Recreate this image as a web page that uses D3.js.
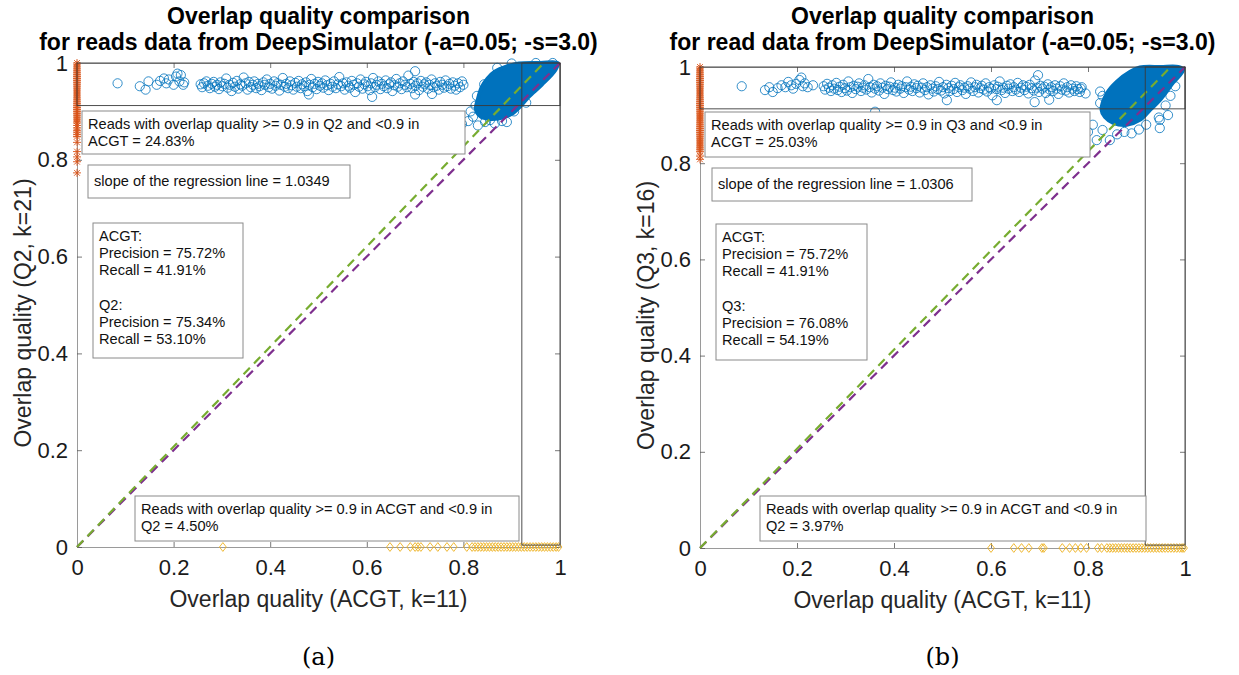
<!DOCTYPE html>
<html>
<head>
<meta charset="utf-8">
<script src="https://cdn.jsdelivr.net/npm/d3@7"></script>
<style>
  body { margin: 0; background: #fff; }
  text { font-family: "Liberation Sans", Arial, Helvetica, sans-serif; }
</style>
</head>
<body>
<div id="chart"></div>
<script>
// ---- data ----
const ticks = [0, 0.2, 0.4, 0.6, 0.8, 1];

const titleA = ["Overlap quality comparison", "for reads data from DeepSimulator (-a=0.05; -s=3.0)"];
const titleB = ["Overlap quality comparison", "for read data from DeepSimulator (-a=0.05; -s=3.0)"];
const xLabel = "Overlap quality (ACGT, k=11)";
const yLabelA = "Overlap quality (Q2, k=21)";
const yLabelB = "Overlap quality (Q3, k=16)";
const captions = ["(a)", "(b)"];

const slopeA = 1.0349;
const slopeB = 1.0306;

// reads that reach >= 0.9 only in Q2 / Q3 (the horizontal band near the top)
const bandA = [
  [0.084,0.958],[0.130,0.952],[0.142,0.945],[0.148,0.962],[0.165,0.955],[0.172,0.963],[0.180,0.968],[0.185,0.958],
  [0.190,0.966],[0.200,0.955],[0.205,0.972],[0.208,0.978],[0.212,0.962],[0.215,0.975],[0.220,0.955],[0.222,0.960],
  [0.256,0.956],[0.259,0.950],[0.263,0.958],[0.268,0.962],[0.271,0.953],[0.275,0.948],[0.279,0.957],[0.283,0.961],[0.286,0.951],[0.290,0.955],
  [0.294,0.946],[0.297,0.960],[0.301,0.952],[0.305,0.957],[0.309,0.968],[0.312,0.949],[0.316,0.955],[0.320,0.942],[0.323,0.959],[0.327,0.951],
  [0.331,0.963],[0.334,0.947],[0.338,0.956],[0.342,0.953],[0.345,0.970],[0.349,0.958],[0.353,0.945],[0.356,0.961],[0.360,0.950],[0.364,0.955],
  [0.367,0.962],[0.371,0.948],[0.375,0.957],[0.378,0.952],[0.382,0.944],[0.386,0.960],[0.389,0.955],[0.393,0.966],[0.397,0.950],[0.400,0.957],
  [0.404,0.947],[0.408,0.962],[0.411,0.953],[0.415,0.958],[0.419,0.943],[0.422,0.955],[0.426,0.969],[0.430,0.951],[0.433,0.957],[0.437,0.948],
  [0.441,0.962],[0.444,0.954],[0.448,0.945],[0.452,0.959],[0.455,0.951],[0.459,0.963],[0.463,0.948],[0.466,0.956],[0.470,0.952],[0.474,0.960],
  [0.477,0.942],[0.481,0.955],[0.485,0.967],[0.488,0.950],[0.492,0.957],[0.496,0.946],[0.499,0.961],[0.503,0.953],[0.507,0.958],[0.510,0.949],
  [0.514,0.964],[0.518,0.954],[0.521,0.944],[0.525,0.957],[0.529,0.951],[0.532,0.962],[0.536,0.948],[0.540,0.956],[0.543,0.971],[0.547,0.952],
  [0.551,0.958],[0.554,0.945],[0.558,0.960],[0.562,0.953],[0.565,0.949],[0.569,0.963],[0.573,0.955],[0.576,0.940],[0.580,0.958],[0.584,0.951],
  [0.587,0.966],[0.591,0.947],[0.595,0.956],[0.598,0.961],[0.602,0.952],[0.606,0.944],[0.609,0.958],[0.613,0.969],[0.617,0.950],[0.620,0.955],
  [0.624,0.962],[0.628,0.946],[0.631,0.957],[0.635,0.952],[0.639,0.964],[0.642,0.948],[0.646,0.956],[0.650,0.960],[0.653,0.942],[0.657,0.954],
  [0.661,0.967],[0.664,0.951],[0.668,0.958],[0.672,0.946],[0.675,0.962],[0.679,0.955],[0.683,0.950],[0.686,0.974],[0.690,0.957],[0.694,0.948],
  [0.697,0.961],[0.701,0.953],[0.705,0.958],[0.708,0.944],[0.712,0.963],[0.716,0.951],[0.719,0.956],[0.723,0.960],[0.727,0.947],[0.730,0.955],
  [0.734,0.966],[0.738,0.950],[0.741,0.958],[0.745,0.953],[0.749,0.945],[0.752,0.961],[0.756,0.955],[0.760,0.949],[0.763,0.964],[0.767,0.952],
  [0.771,0.957],[0.774,0.947],[0.778,0.960],[0.782,0.953],[0.785,0.945],[0.789,0.958],[0.793,0.950],[0.797,0.962],[0.800,0.955],
  [0.611,0.930],[0.480,0.935],[0.700,0.935],[0.700,0.983],[0.735,0.936]
];
const bandB = [
  [0.086,0.960],[0.134,0.952],[0.143,0.958],[0.150,0.948],[0.160,0.956],[0.168,0.962],[0.176,0.958],[0.182,0.969],
  [0.188,0.962],[0.192,0.955],[0.198,0.965],[0.205,0.973],[0.209,0.978],[0.212,0.960],[0.216,0.966],[0.222,0.958],[0.233,0.962],
  [0.255,0.960],[0.258,0.953],[0.262,0.965],[0.266,0.957],[0.270,0.950],[0.273,0.962],[0.277,0.955],[0.281,0.967],[0.284,0.952],[0.288,0.959],
  [0.292,0.948],[0.295,0.963],[0.299,0.956],[0.303,0.951],[0.306,0.970],[0.310,0.958],[0.314,0.946],[0.317,0.961],[0.321,0.954],[0.325,0.959],
  [0.328,0.966],[0.332,0.950],[0.336,0.957],[0.339,0.962],[0.343,0.953],[0.347,0.975],[0.350,0.958],[0.354,0.947],[0.358,0.963],[0.361,0.955],
  [0.365,0.960],[0.369,0.951],[0.372,0.966],[0.376,0.957],[0.380,0.944],[0.383,0.961],[0.387,0.954],[0.391,0.959],[0.394,0.968],[0.398,0.952],
  [0.402,0.957],[0.405,0.949],[0.409,0.963],[0.413,0.955],[0.416,0.960],[0.420,0.946],[0.424,0.958],[0.427,0.970],[0.431,0.953],[0.435,0.959],
  [0.438,0.950],[0.442,0.964],[0.446,0.956],[0.449,0.961],[0.453,0.947],[0.457,0.957],[0.460,0.966],[0.464,0.952],[0.468,0.958],[0.471,0.943],
  [0.475,0.962],[0.479,0.955],[0.482,0.949],[0.486,0.960],[0.490,0.954],[0.493,0.969],[0.497,0.951],[0.501,0.958],[0.504,0.945],[0.508,0.963],
  [0.512,0.956],[0.515,0.950],[0.519,0.961],[0.523,0.954],[0.526,0.967],[0.530,0.948],[0.534,0.958],[0.537,0.962],[0.541,0.952],[0.545,0.957],
  [0.548,0.944],[0.552,0.960],[0.556,0.955],[0.559,0.968],[0.563,0.950],[0.567,0.958],[0.570,0.963],[0.574,0.947],[0.578,0.956],[0.581,0.961],
  [0.585,0.953],[0.589,0.966],[0.592,0.949],[0.596,0.958],[0.600,0.955],[0.603,0.941],[0.607,0.962],[0.611,0.954],[0.614,0.959],[0.618,0.970],
  [0.622,0.952],[0.625,0.957],[0.629,0.946],[0.633,0.961],[0.636,0.955],[0.640,0.964],[0.644,0.950],[0.647,0.958],[0.651,0.953],[0.655,0.967],
  [0.658,0.948],[0.662,0.957],[0.666,0.962],[0.669,0.952],[0.673,0.959],[0.677,0.945],[0.680,0.963],[0.684,0.956],[0.688,0.951],[0.691,0.972],
  [0.695,0.957],[0.699,0.948],[0.702,0.961],[0.706,0.955],[0.710,0.959],[0.713,0.946],[0.717,0.964],[0.721,0.953],[0.724,0.958],[0.728,0.950],
  [0.732,0.962],[0.735,0.955],[0.739,0.944],[0.743,0.960],[0.746,0.953],[0.750,0.966],[0.754,0.951],[0.757,0.958],[0.761,0.947],[0.765,0.962],
  [0.768,0.955],[0.772,0.950],[0.776,0.960],[0.779,0.954],[0.783,0.948],[0.787,0.958],
  [0.361,0.907],[0.509,0.931],[0.612,0.931],[0.690,0.927],[0.720,0.932],[0.697,0.983],[0.825,0.949]
];

// outline of the solid cloud near (1,1)
const blobA = [
  [0.826,0.905],[0.830,0.925],[0.838,0.950],[0.850,0.968],[0.865,0.982],[0.890,0.993],[0.915,0.999],[0.960,1.000],
  [0.995,1.000],[0.990,0.985],[0.962,0.955],[0.935,0.930],[0.920,0.913],[0.900,0.895],[0.875,0.886],[0.850,0.885],[0.835,0.890]
];
const blobB = [
  [0.828,0.911],[0.839,0.945],[0.859,0.969],[0.887,0.990],[0.907,0.999],[0.950,1.000],[0.986,1.000],[0.996,0.994],
  [0.975,0.967],[0.948,0.931],[0.928,0.911],[0.907,0.890],[0.880,0.880],[0.852,0.884],[0.835,0.896]
];
// loose circles around the cloud
const edgeA = [
  [0.797,0.874],[0.810,0.880],[0.820,0.889],[0.830,0.871],[0.845,0.878],[0.855,0.882],[0.865,0.875],[0.880,0.880],
  [0.840,0.895],[0.825,0.912],[0.828,0.932],[0.843,0.956],[0.905,0.900],[0.930,0.918],[0.870,0.990],[0.900,0.999],
  [0.950,1.000],[0.985,1.000],[0.815,0.900],[0.890,0.878]
];
const edgeB = [
  [0.830,0.869],[0.818,0.848],[0.845,0.848],[0.948,0.890],[0.948,0.873],[0.946,0.895],[0.860,0.860],[0.875,0.865],
  [0.890,0.862],[0.905,0.870],[0.920,0.880],[0.960,0.920],[0.970,0.940],[0.980,0.960],[0.800,0.865],[0.810,0.880],
  [0.825,0.925],[0.830,0.940],[0.965,0.900],[0.795,0.945],[0.785,0.955]
];

// reads with ACGT quality 0 (orange stars on the y axis)
const starsA = [1.000,0.996,0.992,0.988,0.984,0.980,0.976,0.972,0.968,0.964,0.960,0.956,0.952,0.948,0.944,0.940,
  0.936,0.932,0.928,0.924,0.920,0.916,0.912,0.908,0.904,0.900,0.896,0.892,0.888,0.884,0.880,0.876,0.871,0.866,
  0.861,0.857,0.852,0.848,0.836,0.817,0.806,0.796,0.773];
const starsB = [1.000,0.996,0.992,0.988,0.984,0.980,0.976,0.972,0.968,0.964,0.960,0.956,0.952,0.948,0.944,0.940,
  0.936,0.932,0.928,0.924,0.920,0.916,0.912,0.908,0.904,0.900,0.896,0.892,0.888,0.884,0.880,0.876,0.872,0.868,
  0.864,0.860,0.856,0.852,0.848,0.844,0.840,0.836,0.832,0.828,0.824,0.815,0.808];

// reads with Q quality 0 (yellow diamonds on the x axis)
const diamondsA = [0.302,0.648,0.669,0.690,0.700,0.706,0.712,0.731,0.747,0.766,0.780,0.807,0.818,0.824,0.830,0.836,
  0.842,0.848,0.854,0.860,0.866,0.872,0.878,0.884,0.890,0.896,0.902,0.908,0.914,0.920,0.926,0.932,0.938,0.944,
  0.950,0.956,0.962,0.968,0.974,0.980,0.986,0.992,0.997];
const diamondsB = [0.600,0.647,0.663,0.678,0.705,0.709,0.747,0.762,0.774,0.785,0.797,0.820,0.828,0.839,0.845,0.851,
  0.857,0.863,0.869,0.875,0.881,0.887,0.893,0.899,0.905,0.911,0.917,0.923,0.929,0.935,0.941,0.947,0.953,0.959,
  0.965,0.971,0.977,0.983,0.989,0.994,0.998];

// threshold rectangles (x cut, y cut, floor)
const cutsA = [0.921, 0.912, 0.004];
const cutsB = [0.918, 0.913, 0.006];

const boxesA = [
  ["Reads with overlap quality >= 0.9 in Q2 and <0.9 in", "ACGT = 24.83%"],
  ["slope of the regression line = 1.0349"],
  ["ACGT:", "Precision = 75.72%", "Recall = 41.91%", "", "Q2:", "Precision = 75.34%", "Recall = 53.10%"],
  ["Reads with overlap quality >= 0.9 in ACGT and <0.9 in", "Q2 = 4.50%"]
];
const boxesB = [
  ["Reads with overlap quality >= 0.9 in Q3 and <0.9 in", "ACGT = 25.03%"],
  ["slope of the regression line = 1.0306"],
  ["ACGT:", "Precision = 75.72%", "Recall = 41.91%", "", "Q3:", "Precision = 76.08%", "Recall = 54.19%"],
  ["Reads with overlap quality >= 0.9 in ACGT and <0.9 in", "Q2 = 3.97%"]
];

// ---- drawing ----
const W = 1239, H = 675;
const svg = d3.select("#chart").append("svg")
  .attr("width", W).attr("height", H)
  .style("background", "#fff");

const BLUE = "#0072BD", ORANGE = "#D95319", YELLOW = "#EDB120", GREEN = "#77AC30", PURPLE = "#7E2F8E";

function draw_panel(opt) {
  const f = opt.frame;
  const g = svg.append("g").attr("transform", `translate(${f.left},${f.top})`);
  const x = d3.scaleLinear().domain([0, 1]).range([0, f.width]);
  const y = d3.scaleLinear().domain([0, 1]).range([f.height, 0]);
  const fmt = d => String(d);

  // axes (box on, ticks inside, MATLAB style)
  const styleAxis = sel => {
    sel.select(".domain").attr("stroke", "#9a9a9a").attr("stroke-width", 1);
    sel.selectAll(".tick line").attr("stroke", "#555").attr("stroke-width", 0.8);
    sel.selectAll(".tick text").attr("fill", "#1a1a1a").style("font-size", "22px")
      .style("font-family", "'Liberation Sans', Arial, Helvetica, sans-serif");
  };
  g.append("g").attr("transform", `translate(0,${f.height})`)
    .call(d3.axisBottom(x).tickValues(ticks).tickFormat(fmt).tickSizeInner(-5).tickSizeOuter(0).tickPadding(12))
    .call(styleAxis);
  g.append("g")
    .call(d3.axisLeft(y).tickValues(ticks).tickFormat(fmt).tickSizeInner(-5).tickSizeOuter(0).tickPadding(9))
    .call(styleAxis);
  g.append("g")
    .call(d3.axisTop(x).tickValues(ticks).tickFormat("").tickSizeInner(-5).tickSizeOuter(0))
    .call(styleAxis);
  g.append("g").attr("transform", `translate(${f.width},0)`)
    .call(d3.axisRight(y).tickValues(ticks).tickFormat("").tickSizeInner(-5).tickSizeOuter(0))
    .call(styleAxis);

  // dense cloud
  const blobLine = d3.line().x(d => x(d[0])).y(d => y(d[1])).curve(d3.curveCatmullRomClosed);
  g.append("path").datum(opt.blob).attr("d", blobLine)
    .attr("fill", BLUE).attr("stroke", BLUE).attr("stroke-width", 4).attr("stroke-linejoin", "round");

  // open circles
  g.selectAll(".pt").data(opt.band.concat(opt.edge)).enter().append("circle")
    .attr("class", "pt")
    .attr("cx", d => x(d[0])).attr("cy", d => y(d[1])).attr("r", 4.6)
    .attr("fill", "none").attr("stroke", BLUE).attr("stroke-width", 0.8);

  // stars on x = 0
  g.selectAll(".star").data(opt.stars).enter().append("path")
    .attr("class", "star")
    .attr("transform", d => `translate(${x(0)},${y(d)})`)
    .attr("d", "M-4,0H4M0,-4V4M-2.9,-2.9L2.9,2.9M-2.9,2.9L2.9,-2.9")
    .attr("stroke", ORANGE).attr("stroke-width", 0.9).attr("fill", "none");

  // diamonds on y = 0
  g.selectAll(".dia").data(opt.diamonds).enter().append("path")
    .attr("class", "dia")
    .attr("transform", d => `translate(${x(d)},${y(0)})`)
    .attr("d", "M0,-4.4L3.4,0L0,4.4L-3.4,0Z")
    .attr("stroke", YELLOW).attr("stroke-width", 0.9).attr("fill", "none");

  // y = x and regression line
  const line = d3.line().x(d => x(d[0])).y(d => y(d[1]));
  g.append("path").datum([[0, 0], [1, 1]]).attr("d", line)
    .attr("stroke", PURPLE).attr("stroke-width", 2.2).attr("stroke-dasharray", "9,6").attr("fill", "none");
  g.append("path").datum([[0, 0], [1 / opt.slope, 1]]).attr("d", line)
    .attr("stroke", GREEN).attr("stroke-width", 2.2).attr("stroke-dasharray", "9,6").attr("fill", "none");

  // threshold rectangles
  const [cx, cy, fl] = opt.cuts;
  g.append("rect").attr("x", x(0)).attr("y", y(1)).attr("width", x(1) - x(0)).attr("height", y(cy) - y(1))
    .attr("fill", "none").attr("stroke", "#3a3a3a").attr("stroke-width", 0.9);
  g.append("rect").attr("x", x(cx)).attr("y", y(1)).attr("width", x(1) - x(cx)).attr("height", y(fl) - y(1))
    .attr("fill", "none").attr("stroke", "#3a3a3a").attr("stroke-width", 0.9);

  // text boxes
  opt.boxes.forEach((lines, i) => {
    const [bx, by, bw, bh, first] = opt.boxLayout[i];
    const bg = g.append("g").attr("transform", `translate(${bx},${by})`);
    bg.append("rect").attr("width", bw).attr("height", bh)
      .attr("fill", "#fff").attr("stroke", "#8a8a8a").attr("stroke-width", 1);
    bg.selectAll("text").data(lines).enter().append("text")
      .attr("x", 6).attr("y", (d, j) => first + j * 17.3)
      .style("font-size", "14.6px").attr("fill", "#111")
      .text(d => d);
  });

  // titles and labels
  const cxp = f.left + f.width / 2;
  opt.title.forEach((t, i) => {
    svg.append("text").attr("x", cxp).attr("y", 24 + i * 25.5)
      .attr("text-anchor", "middle").style("font-size", "23px").style("font-weight", "bold")
      .attr("fill", "#000").text(t);
  });
  svg.append("text").attr("x", cxp).attr("y", f.top + f.height + 60)
    .attr("text-anchor", "middle").style("font-size", "23px").attr("fill", "#262626").text(xLabel);
  svg.append("text")
    .attr("transform", `translate(${f.left - 46},${f.top + f.height / 2 + 8}) rotate(-90)`)
    .attr("text-anchor", "middle").style("font-size", "23px").attr("fill", "#262626").text(opt.yLabel);
  svg.append("text").attr("x", cxp).attr("y", 665)
    .attr("text-anchor", "middle").style("font-size", "24px")
    .style("font-family", "'DejaVu Serif', 'Liberation Serif', serif").attr("fill", "#000").text(opt.caption);
}

draw_panel({
  frame: {left: 77, top: 63, width: 483, height: 484},
  title: titleA, yLabel: yLabelA, caption: captions[0], slope: slopeA,
  band: bandA, edge: edgeA, blob: blobA, stars: starsA, diamonds: diamondsA, cuts: cutsA,
  boxes: boxesA,
  boxLayout: [[5, 48, 383, 43, 17.5], [11, 102, 262, 33, 21], [16, 160, 150, 135, 17.5], [58, 433, 384, 45, 17.5]]
});
draw_panel({
  frame: {left: 700, top: 67, width: 485, height: 481},
  title: titleB, yLabel: yLabelB, caption: captions[1], slope: slopeB,
  band: bandB, edge: edgeB, blob: blobB, stars: starsB, diamonds: diamondsB, cuts: cutsB,
  boxes: boxesB,
  boxLayout: [[5, 45, 385, 45, 17.5], [12, 101, 260, 33, 21], [16, 157, 151, 136, 17.5], [60, 429, 386, 45, 17.5]]
});
</script>
</body>
</html>
